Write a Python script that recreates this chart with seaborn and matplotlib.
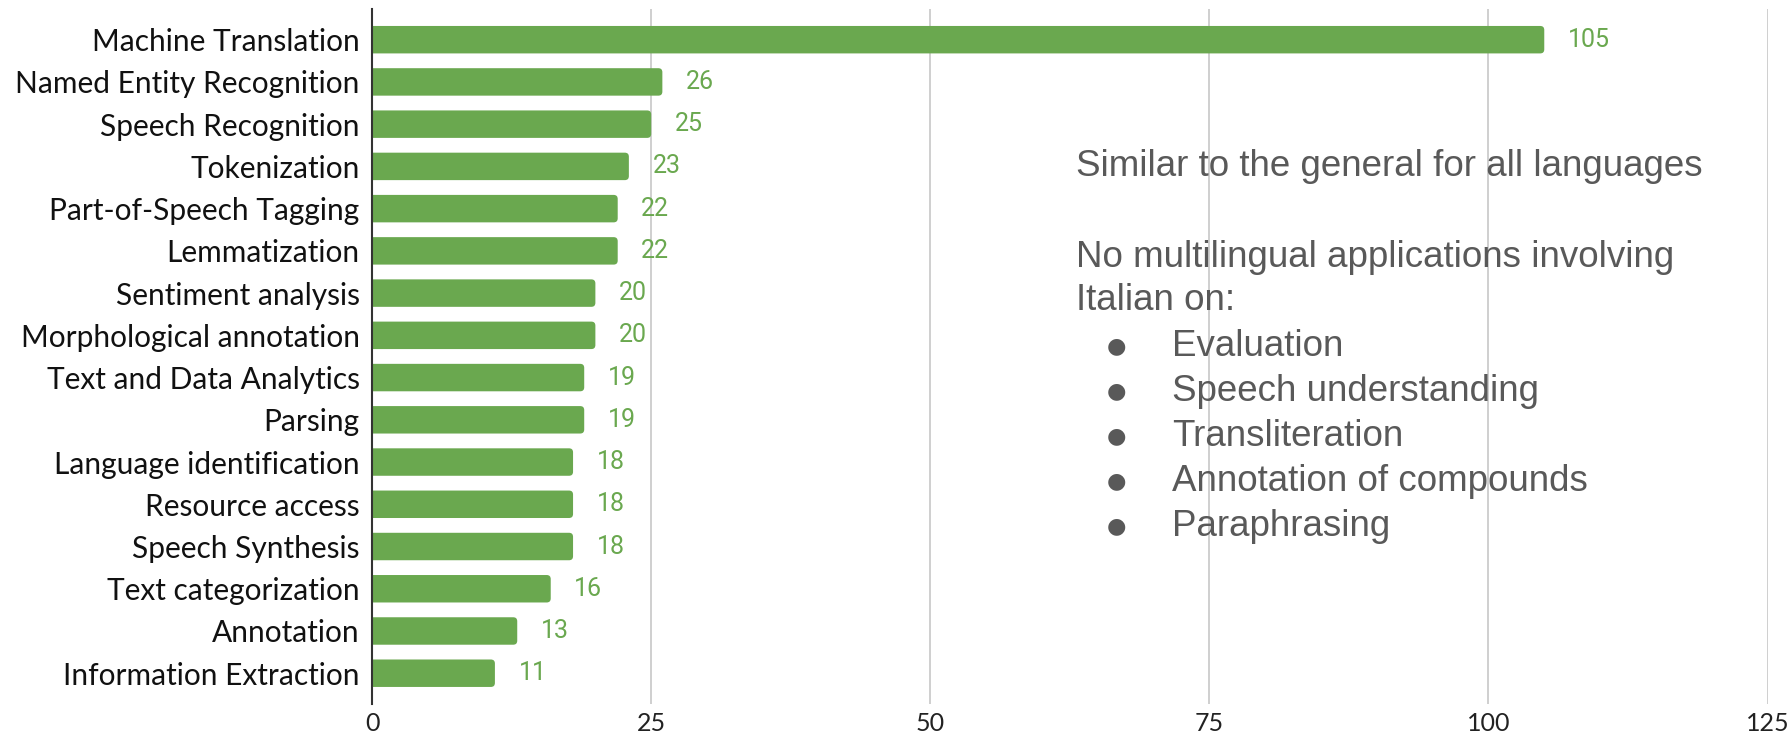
import matplotlib
matplotlib.use("Agg")
import matplotlib.pyplot as plt
from matplotlib.patches import FancyBboxPatch
import seaborn as sns
import pandas as pd

categories = ["Machine Translation", "Named Entity Recognition", "Speech Recognition",
              "Tokenization", "Part-of-Speech Tagging", "Lemmatization",
              "Sentiment analysis", "Morphological annotation", "Text and Data Analytics",
              "Parsing", "Language identification", "Resource access", "Speech Synthesis",
              "Text categorization", "Annotation", "Information Extraction"]
values = [105, 26, 25, 23, 22, 22, 20, 20, 19, 19, 18, 18, 18, 16, 13, 11]
x_ticks = [0, 25, 50, 75, 100, 125]

note_title = "Similar to the general for all languages"
note_lines = ["No multilingual applications involving", "Italian on:"]
note_bullets = ["Evaluation", "Speech understanding", "Transliteration",
                "Annotation of compounds", "Paraphrasing"]

GREEN = "#6aa84f"
GRAY = "#595959"

sns.set_theme(style="white")
plt.rcParams["font.family"] = ["Lato", "DejaVu Sans"]

df = pd.DataFrame({"task": categories, "count": values})

fig = plt.figure(figsize=(17.89, 7.38), dpi=100)
ax = fig.add_axes([0.208, 0.046, 0.780, 0.942])

sns.barplot(data=df, y="task", x="count", orient="h", color=GREEN,
            saturation=1, width=0.65, ax=ax, zorder=3)

ax.set_xlim(0, 125)
ax.set_ylim(len(categories) - 1 + 0.73, -0.73)

# rounded right ends for the bars, derived from the seaborn patches
asp = (16.46 / 695.0) / (125.0 / 1396.0)
for p in list(ax.patches):
    x0, y0 = p.get_x(), p.get_y()
    w, h = p.get_width(), p.get_height()
    p.set_visible(False)
    fb = FancyBboxPatch((x0 - 2, y0), w + 2, h,
                        boxstyle="round,pad=0,rounding_size=0.36",
                        mutation_aspect=asp, facecolor=GREEN, edgecolor="none",
                        zorder=3, clip_on=True)
    ax.add_patch(fb)

ax.set_xticks(x_ticks)
ax.set_xticklabels([str(t) for t in x_ticks], fontsize=18, color="#222222")
ax.set_yticklabels(categories, fontsize=21.5, color="#111111")
ax.set_xlabel("")
ax.set_ylabel("")
ax.tick_params(axis="both", length=0)
ax.tick_params(axis="x", pad=6)
ax.tick_params(axis="y", pad=9)
ax.xaxis.grid(True, color="#cccccc", linewidth=1.3, zorder=0)
ax.yaxis.grid(False)
for s in ["top", "right", "bottom"]:
    ax.spines[s].set_visible(False)
ax.spines["left"].set_color("#333333")
ax.spines["left"].set_linewidth(1.5)
ax.spines["left"].set_zorder(5)

ax.bar_label(ax.containers[0], labels=[str(v) for v in values], padding=17,
             fontsize=18, color=GREEN, family="Roboto")

# annotation block
tx = 1076 / 1789
bx = 1107 / 1789
btx = 1172 / 1789
def fy(py):
    return 1 - py / 738

kw = dict(fontsize=26.5, color=GRAY, family=["Liberation Sans", "DejaVu Sans"],
          va="center", ha="left")
fig.text(tx, fy(166), note_title, **kw)
fig.text(tx, fy(257), note_lines[0], **kw)
fig.text(tx, fy(301), note_lines[1], **kw)
for i, b in enumerate(note_bullets):
    y = fy(346 + i * 45)
    fig.text(bx, y, "\u25cf", fontsize=16, color=GRAY, va="center", ha="left",
             family="DejaVu Sans")
    fig.text(btx, y, b, **kw)

fig.savefig("out.png", dpi=100)
